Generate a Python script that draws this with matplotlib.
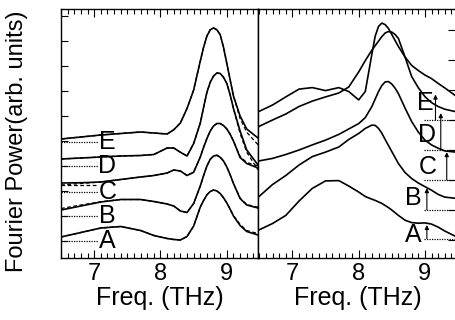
import numpy as np
import matplotlib.pyplot as plt
from matplotlib.ticker import MultipleLocator

plt.rcParams['font.family'] = ['Liberation Sans', 'DejaVu Sans']

# left panel: measured (solid) and fit (dashed) spectra, offset per sample
freq_l = [6.5, 6.8, 7.1, 7.4, 7.7, 7.9, 8.1, 8.2, 8.3, 8.4, 8.5, 8.6, 8.65, 8.7, 8.75, 8.8,
          8.85, 8.9, 8.95, 9.0, 9.05, 9.1, 9.2, 9.3, 9.47]
left_A = [0.16, 0.34, 0.52, 0.58, 0.42, 0.22, 0.10, 0.06, 0.04, 0.18, 0.60, 1.36, 1.62, 1.85, 1.98, 2.04,
          2.00, 1.90, 1.73, 1.52, 1.27, 1.00, 0.62, 0.38, 0.24]
left_B = [1.24, 1.40, 1.56, 1.66, 1.66, 1.58, 1.48, 1.40, 1.20, 1.14, 1.50, 2.20, 2.62, 3.00, 3.27, 3.40,
          3.43, 3.35, 3.20, 2.96, 2.65, 2.30, 1.70, 1.44, 1.32]
left_C = [2.32, 2.33, 2.36, 2.46, 2.56, 2.62, 2.72, 2.84, 2.80, 2.62, 2.75, 3.36, 3.75, 4.10, 4.40, 4.60,
          4.70, 4.70, 4.62, 4.48, 4.27, 4.00, 3.34, 3.10, 2.92]
left_D = [3.28, 3.32, 3.36, 3.40, 3.42, 3.46, 3.72, 3.72, 3.55, 3.40, 3.90, 4.72, 5.35, 5.95, 6.35, 6.60,
          6.72, 6.70, 6.55, 6.30, 5.85, 5.30, 4.40, 3.64, 3.04]
left_E = [4.08, 4.16, 4.24, 4.30, 4.36, 4.32, 4.28, 4.45, 4.72, 5.30, 6.04, 7.20, 7.75, 8.20, 8.45, 8.52,
          8.45, 8.25, 7.75, 7.10, 6.45, 5.80, 5.00, 4.48, 4.12]

fit_A = [0.16, 0.34, 0.52, 0.58, 0.42, 0.22, 0.10, 0.06, 0.04, 0.18, 0.60, 1.36, 1.62, 1.85, 1.98, 2.04,
         2.00, 1.90, 1.73, 1.52, 1.28, 1.02, 0.66, 0.42, 0.30]
fit_B = [1.30, 1.44, 1.57, 1.66, 1.66, 1.58, 1.48, 1.40, 1.20, 1.14, 1.50, 2.20, 2.62, 3.00, 3.27, 3.40,
         3.43, 3.35, 3.20, 2.96, 2.65, 2.30, 1.72, 1.46, 1.35]
fit_C = [2.24, 2.30, 2.36, 2.46, 2.56, 2.62, 2.72, 2.84, 2.80, 2.62, 2.75, 3.36, 3.75, 4.10, 4.40, 4.60,
         4.70, 4.70, 4.62, 4.48, 4.27, 4.00, 3.38, 3.14, 3.00]
fit_D = [3.28, 3.32, 3.36, 3.40, 3.42, 3.46, 3.72, 3.72, 3.55, 3.40, 3.90, 4.72, 5.35, 5.95, 6.35, 6.60,
         6.72, 6.70, 6.55, 6.30, 5.85, 5.30, 4.30, 3.55, 2.85]
fit_E = [4.08, 4.16, 4.24, 4.30, 4.36, 4.32, 4.28, 4.45, 4.72, 5.30, 6.04, 7.20, 7.75, 8.20, 8.45, 8.52,
         8.45, 8.25, 7.75, 7.10, 6.45, 5.80, 4.90, 4.35, 3.85]

base_l = [0.0, 1.0, 1.95, 3.0, 3.95]
base_l_fit_C = 2.24

# right panel spectra
freq_r = [6.48, 6.7, 6.9, 7.1, 7.3, 7.5, 7.7, 7.85, 8.0, 8.1, 8.2, 8.25, 8.3, 8.35, 8.4, 8.45,
          8.5, 8.55, 8.6, 8.7, 8.8, 8.9, 9.0, 9.1, 9.2, 9.3, 9.5]
right_A = [0.32, 0.55, 0.82, 1.30, 1.72, 1.97, 1.98, 1.80, 1.60, 1.45, 1.36, 1.32, 1.27, 1.22, 1.15, 1.08,
           1.00, 0.91, 0.82, 0.66, 0.58, 0.56, 0.57, 0.53, 0.43, 0.30, 0.08]
right_B = [1.42, 1.85, 2.15, 2.50, 2.78, 2.93, 3.10, 3.35, 3.55, 3.72, 3.83, 3.82, 3.72, 3.56, 3.35, 3.15,
           2.95, 2.75, 2.55, 2.25, 2.05, 1.90, 1.78, 1.66, 1.52, 1.43, 1.38]
right_C = [2.63, 2.72, 2.85, 3.00, 3.17, 3.33, 3.52, 3.70, 3.88, 4.08, 4.45, 4.70, 4.95, 5.15, 5.27, 5.28,
           5.20, 5.06, 4.88, 4.40, 3.95, 3.60, 3.33, 3.17, 3.06, 2.97, 2.92]
right_D = [3.77, 4.00, 4.20, 4.45, 4.63, 4.77, 4.90, 5.10, 5.60, 5.98, 6.33, 6.48, 6.63, 6.78, 6.90, 6.95,
           6.93, 6.85, 6.72, 6.10, 5.45, 5.08, 4.78, 4.58, 4.45, 4.36, 4.26]
right_E = [4.27, 4.50, 4.77, 5.03, 5.08, 4.98, 5.08, 4.95, 4.67, 4.95, 6.20, 6.80, 7.12, 7.23, 7.18, 7.05,
           6.85, 6.65, 6.45, 6.10, 5.82, 5.65, 5.50, 5.38, 5.22, 5.07, 4.75]

base_r = [0.05, 1.0, 2.0, 3.0, 4.0]
# arrows from each baseline up to the curve
arrow_x = [9.03, 9.03, 9.33, 9.24, 9.16]
arrow_top = [0.50, 1.73, 2.93, 4.23, 4.85]

labels = ['A', 'B', 'C', 'D', 'E']

fig = plt.figure(figsize=(4.56, 3.2), dpi=100)
ax1 = fig.add_axes([61/456, 62/320, 197/456, 249/320])
ax2 = fig.add_axes([258/456, 62/320, 200/456, 249/320])

lw = 1.2
for ys in [left_A, left_B, left_C, left_D, left_E]:
    ax1.plot(freq_l, ys, color='k', lw=lw)
for ys in [fit_A, fit_B, fit_C, fit_D, fit_E]:
    ax1.plot(freq_l, ys, color='k', lw=0.9, ls=(0, (3, 2)))
for b in base_l:
    ax1.plot([6.5, 7.06], [b, b], color='k', lw=0.9, ls=(0, (1, 1)))
ax1.plot([6.5, 7.06], [base_l_fit_C, base_l_fit_C], color='k', lw=0.9, ls=(0, (3, 2)))
for lab, b in zip(labels, base_l):
    ax1.text(7.2, b, lab, fontsize=18, ha='center', va='center')

for ys in [right_A, right_B, right_C, right_D, right_E]:
    ax2.plot(freq_r, ys, color='k', lw=lw)
for b in base_r:
    ax2.plot([8.98, 9.5], [b, b], color='k', lw=0.9, ls=(0, (1, 1)))
for x, b, t in zip(arrow_x, base_r, arrow_top):
    ax2.annotate('', xy=(x, t), xytext=(x, b),
                 arrowprops=dict(arrowstyle='-|>', lw=0.8, color='k',
                                 mutation_scale=6, shrinkA=0, shrinkB=0))
label_rx = [8.83, 8.83, 9.05, 9.03, 9.0]
label_ry = [0.17, 1.4, 2.43, 3.5, 4.57]
for lab, x, y in zip(labels, label_rx, label_ry):
    ax2.text(x, y, lab, fontsize=18, ha='center', va='center')

ax1.set_xlim(6.5, 9.47)
ax1.set_ylim(-0.68, 9.28)
ax2.set_xlim(6.48, 9.5)
ax2.set_ylim(-0.6, 7.7)

for ax in (ax1, ax2):
    ax.xaxis.set_major_locator(MultipleLocator(1))
    ax.xaxis.set_minor_locator(MultipleLocator(0.1))
    ax.tick_params(axis='x', which='both', direction='in', top=True, bottom=True,
                   labelsize=17, pad=3.5, width=0.8)
    ax.tick_params(axis='x', which='major', length=6)
    ax.tick_params(axis='x', which='minor', length=3.5)
    ax.set_xlabel('Freq. (THz)', fontsize=18, labelpad=1)
    for s in ax.spines.values():
        s.set_linewidth(1.0)

ax1.yaxis.set_major_locator(MultipleLocator(1))
ax1.tick_params(axis='y', direction='in', left=True, right=False, labelleft=False,
                length=5, width=0.8)
ax2.yaxis.set_major_locator(MultipleLocator(1))
ax2.tick_params(axis='y', direction='in', left=False, right=True, labelleft=False,
                labelright=False, length=7, width=0.8)

fig.text(17/456, 0.56, 'Fourier Power(arb. units)', rotation=90, fontsize=17,
         ha='center', va='center')

fig.savefig('out.png', dpi=100)
